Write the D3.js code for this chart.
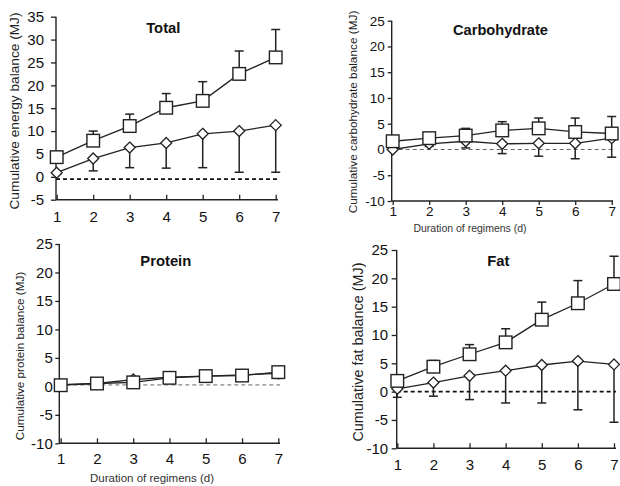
<!DOCTYPE html>
<html>
<head>
<meta charset="utf-8">
<script src="https://cdn.jsdelivr.net/npm/d3@7"></script>
<style>
  html, body { margin: 0; padding: 0; background: #fff; }
  svg { display: block; font-family: "Liberation Sans", Arial, sans-serif; }
</style>
</head>
<body>
<svg id="chart" width="620" height="486"></svg>
<script>
// ---------------- DATA ----------------
const days = [1, 2, 3, 4, 5, 6, 7];
const xTickLabels = ["1", "2", "3", "4", "5", "6", "7"];

const titles = ["Total", "Carbohydrate", "Protein", "Fat"];
const yLabels = [
  "Cumulative energy balance (MJ)",
  "Cumulative carbohydrate balance (MJ)",
  "Cumulative protein balance (MJ)",
  "Cumulative fat balance (MJ)"
];
const xTitle = "Duration of regimens (d)";

const yTicksTotal = [-5, 0, 5, 10, 15, 20, 25, 30, 35];
const yTicksOther = [-10, -5, 0, 5, 10, 15, 20, 25];

// square series (mean) and upward error (SD)
const totalSquare    = [4.3, 7.9, 11.1, 15.1, 16.6, 22.5, 26.1];
const totalSquareErr = [0.5, 2.1, 2.6, 3.1, 4.2, 5.0, 6.1];
// diamond series (mean) and downward error (SD)
const totalDiamond    = [0.9, 4.0, 6.4, 7.4, 9.4, 10.0, 11.3];
const totalDiamondErr = [0.3, 2.7, 4.4, 5.5, 7.4, 9.0, 10.3];

const carbSquare    = [1.6, 2.2, 2.7, 3.7, 4.1, 3.4, 3.1];
const carbSquareErr = [0.3, 0.4, 1.4, 1.7, 2.0, 2.7, 3.3];
const carbDiamond    = [0.0, 1.1, 1.6, 1.1, 1.2, 1.2, 2.2];
const carbDiamondErr = [0.2, 0.5, 1.3, 1.9, 2.5, 3.0, 3.7];

const protSquare    = [0.2, 0.5, 0.7, 1.5, 1.8, 1.9, 2.5];
const protSquareErr = [0.1, 0.1, 1.0, 0.2, 0.2, 0.3, 0.3];
const protDiamond    = [0.3, 0.5, 1.2, 1.6, 1.8, 2.0, 2.3];
const protDiamondErr = [0.1, 0.1, 0.3, 0.2, 0.2, 0.3, 0.9];

const fatSquare    = [1.9, 4.4, 6.6, 8.7, 12.7, 15.6, 19.0];
const fatSquareErr = [0.4, 1.1, 1.7, 2.4, 3.1, 4.0, 4.9];
const fatDiamond    = [0.5, 1.6, 2.8, 3.7, 4.7, 5.4, 4.8];
const fatDiamondErr = [1.5, 2.4, 4.2, 5.7, 6.7, 8.6, 10.2];

const refLines = [-0.5, 0, 0.25, 0];

// ---------------- LAYOUT ----------------
const panels = [
  { sq: totalSquare, sqE: totalSquareErr, di: totalDiamond, diE: totalDiamondErr,
    yTicks: yTicksTotal, yDom: [-5, 35],
    x0: 56.7, x1: 275.7, yTop: 16.7, yBot: 199.7, axisX: 56, axisEnd: 278,
    tickFont: 15, tickDir: -1, yTick: 5, yPad: 7, xPad: 12,
    title: [163.3, 33.3], titleFont: 14.8,
    yLab: [15, 111], yLabFont: 13.7,
    xTitle: null, ref: { w: 1.8, dash: "4,3", color: "#111" } },
  { sq: carbSquare, sqE: carbSquareErr, di: carbDiamond, diE: carbDiamondErr,
    yTicks: yTicksOther, yDom: [-10, 25],
    x0: 392.7, x1: 611.7, yTop: 20.7, yBot: 201, axisX: 391.7, axisEnd: 613,
    tickFont: 13.5, tickDir: 1, yTick: 4, yPad: 3, xPad: 5.4,
    title: [500.5, 35], titleFont: 14.6,
    yLab: [353.7, 112], yLabFont: 11.8,
    xTitle: [470, 232, 10.5], ref: { w: 1, dash: "4,3", color: "#666" } },
  { sq: protSquare, sqE: protSquareErr, di: protDiamond, diE: protDiamondErr,
    yTicks: yTicksOther, yDom: [-10, 25],
    x0: 60.7, x1: 278.3, yTop: 244, yBot: 443.3, axisX: 59.3, axisEnd: 280,
    tickFont: 15, tickDir: -1, yTick: 4, yPad: 2.5, xPad: 10,
    title: [165.8, 266], titleFont: 14.8,
    yLab: [20.5, 356], yLabFont: 11.7,
    xTitle: [152, 482, 11.5], ref: { w: 1, dash: "4,3", color: "#666" } },
  { sq: fatSquare, sqE: fatSquareErr, di: fatDiamond, diE: fatDiamondErr,
    yTicks: yTicksOther, yDom: [-10, 25],
    x0: 397.3, x1: 614, yTop: 250, yBot: 448.3, axisX: 396.7, axisEnd: 616,
    tickFont: 15, tickDir: -1, yTick: 5, yPad: 3.5, xPad: 11,
    title: [498.3, 266], titleFont: 14.8,
    yLab: [359, 352], yLabFont: 14.4,
    xTitle: null, ref: { w: 1.8, dash: "4,3", color: "#111" } }
];

const svg = d3.select("#chart");

panels.forEach((p, i) => {
  const g = svg.append("g");
  const x = d3.scaleLinear().domain([1, 7]).range([p.x0, p.x1]);
  const y = d3.scaleLinear().domain(p.yDom).range([p.yBot, p.yTop]);

  // y axis
  const yAxis = d3.axisLeft(y).tickValues(p.yTicks).tickSize(p.yTick).tickPadding(p.yPad)
    .tickFormat(d => String(d));
  const ya = g.append("g").attr("transform", `translate(${p.axisX},0)`).call(yAxis);
  ya.select(".domain").attr("d", `M0,${p.yTop}V${p.yBot}`).attr("stroke", "#222").attr("stroke-width", 1.4);
  ya.selectAll(".tick line").attr("stroke", "#222").attr("stroke-width", 1.3);
  ya.selectAll(".tick text").attr("font-size", p.tickFont).attr("fill", "#111")
    .attr("font-family", "'Liberation Sans', Arial, sans-serif");

  // x axis
  const xa = g.append("g").attr("transform", `translate(0,${p.yBot})`)
    .call(d3.axisBottom(x).tickValues(days).tickFormat((d, j) => xTickLabels[j])
      .tickSize(0).tickPadding(p.xPad));
  xa.select(".domain").attr("d", `M${p.axisX},0H${p.axisEnd}`).attr("stroke", "#222").attr("stroke-width", 1.4);
  xa.selectAll(".tick").append("line")
    .attr("y1", 0).attr("y2", p.tickDir < 0 ? -5 : 4).attr("stroke", "#222").attr("stroke-width", 1.3);
  xa.selectAll(".tick text").attr("font-size", p.tickFont).attr("fill", "#111")
    .attr("font-family", "'Liberation Sans', Arial, sans-serif");

  // reference dashed line
  g.append("line")
    .attr("x1", p.axisX).attr("x2", p.axisEnd)
    .attr("y1", y(refLines[i])).attr("y2", y(refLines[i]))
    .attr("stroke", p.ref.color).attr("stroke-width", p.ref.w).attr("stroke-dasharray", p.ref.dash);

  const sqPts = days.map((d, j) => ({ d, v: p.sq[j], e: p.sqE[j] }));
  const diPts = days.map((d, j) => ({ d, v: p.di[j], e: p.diE[j] }));
  const line = d3.line().x(q => x(q.d)).y(q => y(q.v));

  // connecting lines
  g.append("path").datum(diPts).attr("d", line).attr("fill", "none").attr("stroke", "#222").attr("stroke-width", 1.3);
  g.append("path").datum(sqPts).attr("d", line).attr("fill", "none").attr("stroke", "#222").attr("stroke-width", 1.3);

  // error bars: squares upward, diamonds downward
  const cap = 4.5;
  const eb = (pts, sign) => {
    const sel = g.append("g").selectAll("g").data(pts).join("g");
    sel.append("line").attr("x1", q => x(q.d)).attr("x2", q => x(q.d))
      .attr("y1", q => y(q.v)).attr("y2", q => y(q.v + sign * q.e))
      .attr("stroke", "#222").attr("stroke-width", 1.5);
    sel.append("line").attr("x1", q => x(q.d) - cap).attr("x2", q => x(q.d) + cap)
      .attr("y1", q => y(q.v + sign * q.e)).attr("y2", q => y(q.v + sign * q.e))
      .attr("stroke", "#222").attr("stroke-width", 1.5);
  };
  eb(diPts, -1);
  eb(sqPts, 1);

  // diamonds
  const ds = 5.5;
  g.append("g").selectAll("path").data(diPts).join("path")
    .attr("d", q => `M${x(q.d)},${y(q.v) - ds}L${x(q.d) + ds},${y(q.v)}L${x(q.d)},${y(q.v) + ds}L${x(q.d) - ds},${y(q.v)}Z`)
    .attr("fill", "#fff").attr("stroke", "#222").attr("stroke-width", 1.3);

  // squares
  const ss = 6.3;
  g.append("g").selectAll("rect").data(sqPts).join("rect")
    .attr("x", q => x(q.d) - ss).attr("y", q => y(q.v) - ss)
    .attr("width", ss * 2).attr("height", ss * 2)
    .attr("fill", "#fff").attr("stroke", "#222").attr("stroke-width", 1.4);

  // title
  g.append("text").attr("x", p.title[0]).attr("y", p.title[1])
    .attr("text-anchor", "middle").attr("font-weight", "bold").attr("font-size", p.titleFont)
    .attr("fill", "#111").text(titles[i]);

  // y label
  g.append("text")
    .attr("transform", `translate(${p.yLab[0]},${p.yLab[1]}) rotate(-90)`)
    .attr("text-anchor", "middle").attr("dominant-baseline", "middle")
    .attr("font-size", p.yLabFont).attr("fill", "#222").text(yLabels[i]);

  // x title
  if (p.xTitle) {
    g.append("text").attr("x", p.xTitle[0]).attr("y", p.xTitle[1])
      .attr("text-anchor", "middle").attr("font-size", p.xTitle[2]).attr("fill", "#333").text(xTitle);
  }
});
</script>
</body>
</html>
